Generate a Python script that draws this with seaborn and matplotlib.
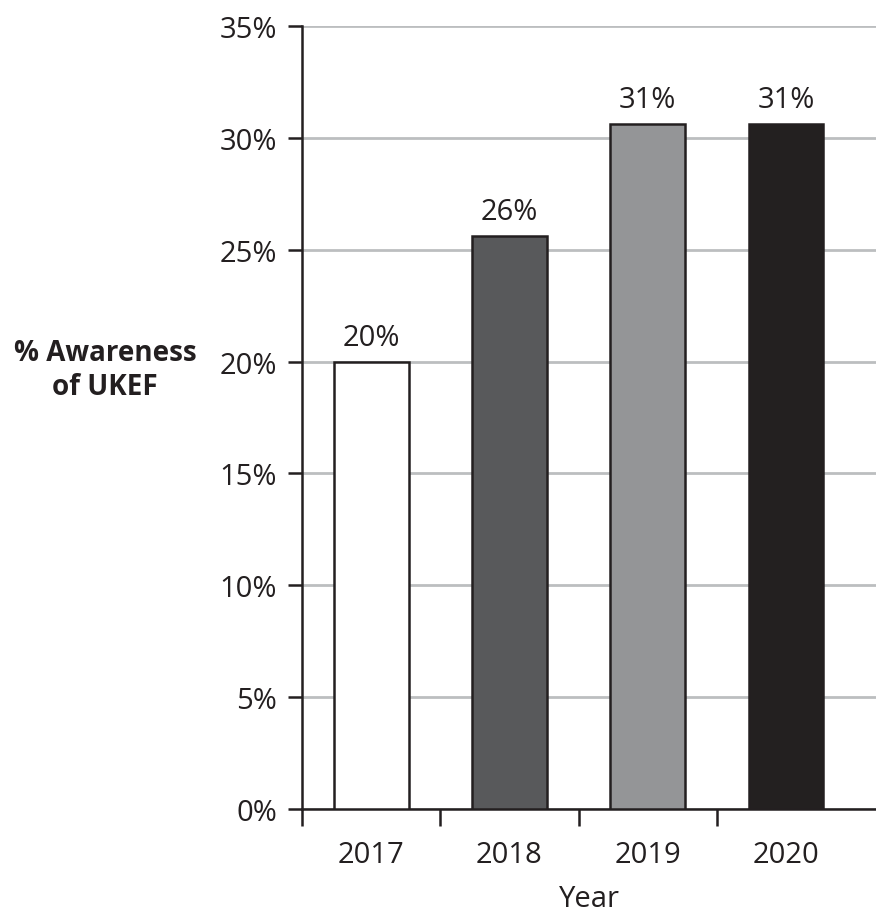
import matplotlib
matplotlib.use("Agg")
import matplotlib.pyplot as plt
import seaborn as sns
import pandas as pd
from matplotlib.ticker import FixedLocator, PercentFormatter

# awareness of UKEF by year
years = ["2017", "2018", "2019", "2020"]
awareness = [20.0, 25.6, 30.6, 30.6]
bar_colors = ["#ffffff", "#58595b", "#939598", "#231f20"]
y_ticks = [0, 5, 10, 15, 20, 25, 30, 35]

INK = "#231f20"
FS = 21

df = pd.DataFrame({"Year": years, "Awareness": awareness})

sns.set_theme(style="white")
plt.rcParams["font.family"] = ["Open Sans", "DejaVu Sans"]
plt.rcParams["text.color"] = INK
plt.rcParams["axes.labelcolor"] = INK
plt.rcParams["xtick.color"] = INK
plt.rcParams["ytick.color"] = INK

fig = plt.figure(figsize=(8.76, 9.12), dpi=100)
ax = fig.add_axes([302 / 876, 102 / 912, 1 - 302 / 876, 783 / 912])

sns.barplot(
    data=df,
    x="Year",
    y="Awareness",
    hue="Year",
    palette=bar_colors,
    legend=False,
    width=0.54,
    ax=ax,
    zorder=3,
)

for patch in ax.patches:
    patch.set_edgecolor(INK)
    patch.set_linewidth(1.8)

# value labels above each bar
for i, v in enumerate(awareness):
    ax.text(i, v + 0.45, f"{v:.0f}%", ha="center", va="bottom", fontsize=FS, color=INK)

ax.set_ylim(0, 35)
ax.set_xlim(-0.5, 3.65)
ax.yaxis.set_major_locator(FixedLocator(y_ticks))
ax.yaxis.set_major_formatter(PercentFormatter(decimals=0))
ax.yaxis.grid(True, color="#bcbec0", linewidth=2.0, zorder=0)
ax.set_axisbelow(True)

# x ticks sit between categories, labels at centres
ax.xaxis.set_minor_locator(FixedLocator([-0.5, 0.5, 1.5, 2.5]))
ax.tick_params(axis="x", which="major", length=0, pad=22, labelsize=FS)
ax.tick_params(axis="x", which="minor", length=12, width=1.8, direction="out", bottom=True)
ax.tick_params(axis="y", which="major", length=10, width=1.8, direction="out", left=True,
               pad=8, labelsize=FS)

for side in ["top", "right"]:
    ax.spines[side].set_visible(False)
for side in ["left", "bottom"]:
    ax.spines[side].set_color(INK)
    ax.spines[side].set_linewidth(1.8)

ax.set_xlabel("Year", fontsize=FS, labelpad=11)
ax.set_ylabel("% Awareness\nof UKEF", fontsize=20, fontweight="bold", rotation=0,
              ha="center", va="center", multialignment="center", linespacing=1.25)
ax.yaxis.set_label_coords(-0.343, 0.561)

fig.savefig("out.png", dpi=100)
